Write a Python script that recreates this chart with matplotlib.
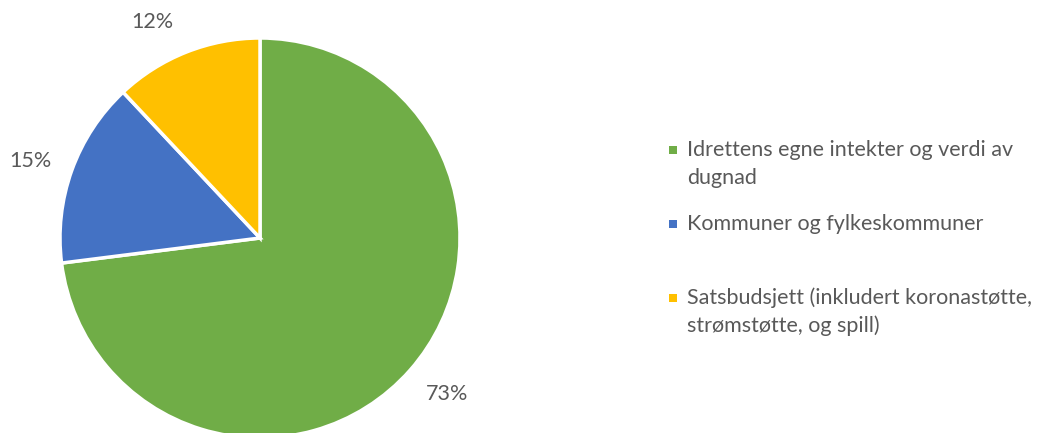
import matplotlib.pyplot as plt
from matplotlib.patches import Rectangle

# andeler av finansiering
labels = ["Idrettens egne intekter og verdi av\ndugnad",
          "Kommuner og fylkeskommuner",
          "Satsbudsjett (inkludert koronastøtte,\nstrømstøtte, og spill)"]
values = [73, 15, 12]
colors = ["#70AD47", "#4472C4", "#FFC000"]

plt.rcParams['font.family'] = ['Lato', 'DejaVu Sans']
txt = "#595959"

W, H = 1047, 433
fig = plt.figure(figsize=(W / 100, H / 100), dpi=100)
fig.patch.set_facecolor("white")

# pie sitter i piksler 60..460 x, 38..438 y (ovenfra)
ax = fig.add_axes([60 / W, (H - 438) / H, 400 / W, 400 / H])
wedges, _, pcts = ax.pie(values, colors=colors, startangle=90, counterclock=False,
                         autopct="%d%%", pctdistance=1.21,
                         wedgeprops=dict(edgecolor="white", linewidth=2.5),
                         textprops=dict(color=txt, fontsize=15.5))
ax.set_xlim(-1, 1)
ax.set_ylim(-1, 1)
ax.set_aspect("equal")
ax.axis("off")

# etikettene slik Excel plasserte dem
label_pos = [(0.935, -0.78), (-1.15, 0.385), (-0.54, 1.08)]
for t, p in zip(pcts, label_pos):
    t.set_position(p)

# legende, tegnet for hand (Excel setter ruten ved forste linje)
leg_x = 669
leg_base = [156, 230, 304]
line_h = 28
for lab, c, yb in zip(labels, colors, leg_base):
    fig.add_artist(Rectangle((leg_x / W, 1 - (yb - 2) / H), 8 / W, 8 / H,
                             transform=fig.transFigure, facecolor=c, edgecolor="none"))
    for i, line in enumerate(lab.split("\n")):
        fig.text(687 / W, 1 - (yb + i * line_h) / H, line, color=txt, fontsize=15.5,
                 va="baseline", ha="left")

fig.savefig("out.png", dpi=100)
